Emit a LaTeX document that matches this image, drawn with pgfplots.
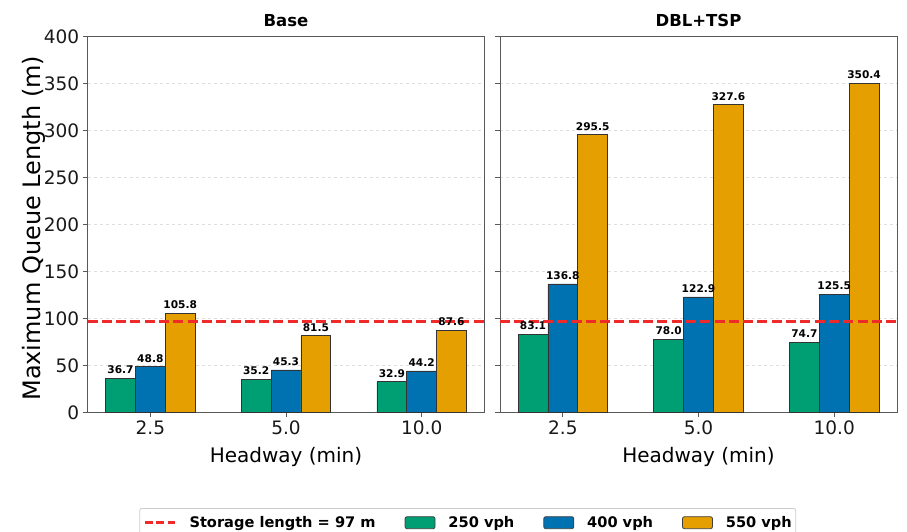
\documentclass[border=0pt]{standalone}
\usepackage{pgfplots}
\pgfplotsset{compat=1.18}
\usepackage{fontspec}
\setmainfont{DejaVu Sans}
\definecolor{cgreen}{HTML}{009E73}
\definecolor{cblue}{HTML}{0072B2}
\definecolor{corange}{HTML}{E69F00}
\definecolor{cred}{HTML}{EE2A2A}
\pgfplotsset{
  panel/.style={
    width=397pt, height=376pt, scale only axis,
    xmin=-0.463, xmax=2.463, ymin=0, ymax=400,
    ytick={0,50,...,400},
    xtick={0,1,2}, xticklabels={2.5,5.0,10.0},
    xtick pos=lower, ytick pos=left,
    tick align=outside, major tick length=4.7pt,
    tick style={color=black!65, line width=0.8pt},
    axis line style={black!65, line width=0.9pt},
    ymajorgrids, major grid style={dashed, black!13, line width=0.7pt},
    ticklabel style={font=\fontsize{18.5}{22}\selectfont, black!90},
    /pgf/number format/assume math mode=true,
    ybar, bar width=0.22,
    title style={font=\bfseries\fontsize{16.5}{20}\selectfont, yshift=0pt},
    every axis y label/.style={at={(rel axis cs:-0.136,0.49)}, rotate=90, anchor=center, font=\fontsize{24}{28}\selectfont},
    every axis x label/.style={at={(rel axis cs:0.5,-0.118)}, anchor=center, font=\fontsize{20}{24}\selectfont},
  },
  mybar/.style={fill=#1, draw=black!80, line width=0.8pt, forget plot,
    point meta=y,
    nodes near coords={\pgfmathprintnumber[fixed,fixed zerofill,precision=1]{\pgfplotspointmeta}},
    every node near coord/.append style={font=\bfseries\fontsize{10.6}{12}\selectfont, black, inner sep=1pt, yshift=3pt}},
  refline/.style={sharp plot, cred, line width=2.67pt, dash pattern=on 10pt off 4.3pt, forget plot},
}
\begin{document}
\begin{tikzpicture}
\begin{axis}[panel, at={(87.5pt,-412.5pt)}, anchor=south west,
  title={Base}, ylabel={Maximum Queue Length (m)}, xlabel={Headway (min)},
  legend style={at={(0.958,-0.254)}, anchor=north, legend columns=4,
    draw=black!20, rounded corners=2pt, line width=0.8pt,
    font=\bfseries\fontsize{14.6}{17}\selectfont,
    inner xsep=4pt, inner ysep=6pt,
    nodes={inner xsep=0pt, inner ysep=2pt},
    /tikz/every odd column/.append style={column sep=13pt},
    /tikz/every even column/.append style={column sep=29pt}},
  legend cell align=left]
\addlegendimage{legend image code/.code={\draw[cred, line width=2.67pt, dash pattern=on 7.5pt off 3.7pt] (0pt,0pt) -- (30pt,0pt);}}
\addlegendentry{Storage length = 97 m}
\addlegendimage{legend image code/.code={\draw[fill=cgreen, draw=black!75, line width=0.8pt] (0pt,-6pt) rectangle (30pt,6pt);}}
\addlegendentry{250 vph}
\addlegendimage{legend image code/.code={\draw[fill=cblue, draw=black!75, line width=0.8pt] (0pt,-6pt) rectangle (30pt,6pt);}}
\addlegendentry{400 vph}
\addlegendimage{legend image code/.code={\draw[fill=corange, draw=black!75, line width=0.8pt] (0pt,-6pt) rectangle (30pt,6pt);}}
\addlegendentry{550 vph}
\addplot[mybar=cgreen, bar shift=-0.22] coordinates {(0,36.7) (1,35.2) (2,32.9)};
\addplot[mybar=cblue, bar shift=0] coordinates {(0,48.8) (1,45.3) (2,44.2)};
\addplot[mybar=corange, bar shift=0.22] coordinates {(0,105.8) (1,81.5) (2,87.6)};
\addplot[refline] coordinates {(-0.463,97) (2.463,97)};
\end{axis}
\begin{axis}[panel, at={(500pt,-412.5pt)}, anchor=south west,
  title={DBL+TSP}, xlabel={Headway (min)}, yticklabels={}]
\addplot[mybar=cgreen, bar shift=-0.22] coordinates {(0,83.1) (1,78.0) (2,74.7)};
\addplot[mybar=cblue, bar shift=0] coordinates {(0,136.8) (1,122.9) (2,125.5)};
\addplot[mybar=corange, bar shift=0.22] coordinates {(0,295.5) (1,327.6) (2,350.4)};
\addplot[refline] coordinates {(-0.463,97) (2.463,97)};
\end{axis}
\pgfresetboundingbox
\path[use as bounding box] (0pt,0pt) rectangle (907pt,-532pt);
\end{tikzpicture}
\end{document}
